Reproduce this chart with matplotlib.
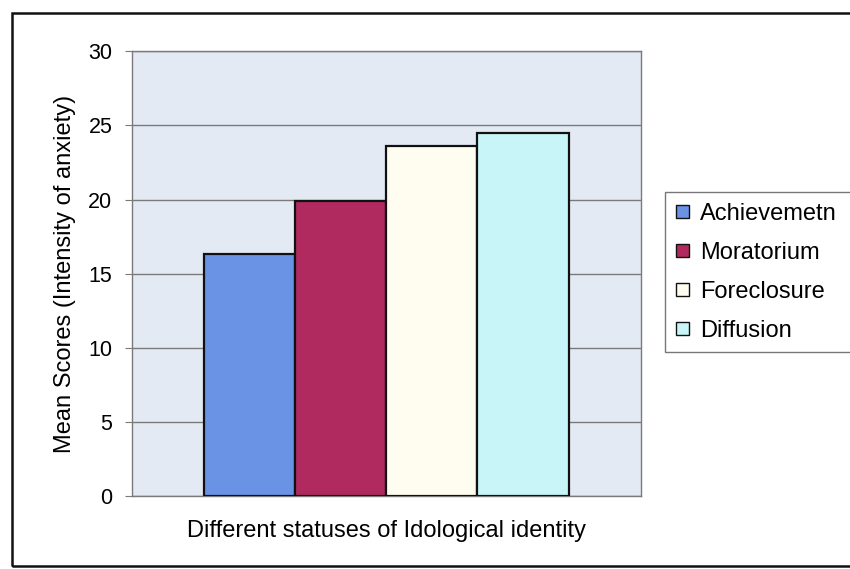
import matplotlib.pyplot as plt
from matplotlib.patches import Patch, Rectangle

plt.rcParams['font.family'] = ['Liberation Sans', 'DejaVu Sans']

# Data
statuses = ["Achievemetn", "Moratorium", "Foreclosure", "Diffusion"]
mean_scores = [16.3, 19.9, 23.6, 24.5]
colors = ["#6a93e6", "#b02a60", "#fffdf0", "#c8f6f8"]
yticks = [0, 5, 10, 15, 20, 25, 30]

fig = plt.figure(figsize=(8.5, 5.69), dpi=100)
ax = fig.add_axes([0.155, 0.128, 0.599, 0.782])
ax.set_facecolor("#e4eaf4")

width = 0.179
n = len(statuses)
offsets = [(i - (n - 1) / 2) * width for i in range(n)]
for off, val, col in zip(offsets, mean_scores, colors):
    ax.bar(off, val, width=width, color=col, edgecolor="#111111", linewidth=1.6, zorder=3)

ax.set_xlim(-0.5, 0.5)
ax.set_ylim(0, 30)
ax.set_yticks(yticks)
ax.set_xticks([])
ax.grid(axis="y", color="#7a7a7a", linewidth=1.0, zorder=0)
for s in ax.spines.values():
    s.set_color("#7a7a7a")
    s.set_linewidth(1.0)
ax.tick_params(axis="y", length=5, color="#7a7a7a", labelsize=15.5, pad=9)

ax.set_ylabel("Mean Scores (Intensity of anxiety)", fontsize=17, labelpad=9)
ax.set_xlabel("Different statuses of Idological identity", fontsize=17, labelpad=17)

handles = [Patch(facecolor=c, edgecolor="#111111", linewidth=1.0) for c in colors]
fig.legend(handles, statuses, loc="upper left",
           bbox_to_anchor=(665 / 850, 1 - 348 / 569, 200 / 850, 156 / 569),
           mode="expand", fontsize=17, frameon=True, fancybox=False,
           edgecolor="#555555", handlelength=0.55, handleheight=0.5,
           handletextpad=0.5, labelspacing=0.72, borderpad=0.45, borderaxespad=0)

# outer frame of the chart
fig.patches.append(Rectangle((12 / 850, 3 / 569), 0.99, 1 - 13 / 569 - 3 / 569,
                             transform=fig.transFigure, fill=False,
                             edgecolor="#111111", linewidth=1.8))

fig.savefig("out.png", dpi=100)
